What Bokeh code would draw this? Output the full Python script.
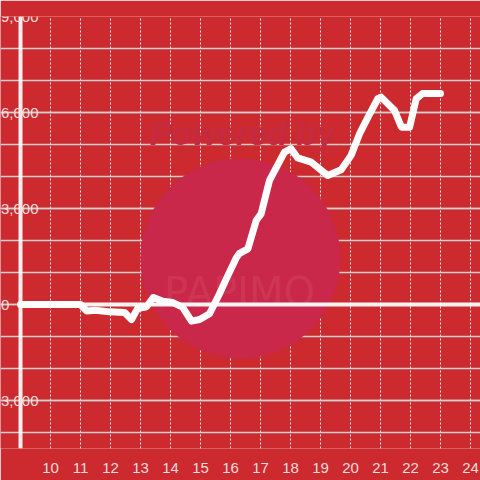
from bokeh.plotting import figure
from bokeh.models import Range1d, Span, SingleIntervalTicker, NumeralTickFormatter, FixedTicker
from bokeh.core.properties import value
from bokeh.embed import file_html
from bokeh.resources import INLINE

# data (hour of day, cumulative value)
hours = [9.0, 11.0, 11.2, 11.5, 11.97, 12.47, 12.7, 12.9, 13.2, 13.43, 13.74, 14.08,
         14.4, 14.7, 14.97, 15.3, 15.63, 15.86, 16.19, 16.3, 16.58, 16.86, 17.02, 17.3,
         17.8, 18.02, 18.24, 18.69, 19.24, 19.69, 20.02, 20.3, 20.58, 20.91, 21.02,
         21.47, 21.7, 21.97, 22.19, 22.4, 23.0]
values = [0, 0, -200, -180, -230, -250, -470, -130, -70, 220, 100, 60,
          -80, -520, -470, -290, 330, 800, 1450, 1600, 1740, 2630, 2830, 3880,
          4760, 4870, 4580, 4450, 4030, 4210, 4660, 5330, 5850, 6430, 6480,
          6060, 5540, 5540, 6430, 6590, 6590]
x_ticks = list(range(10, 25))
x_origin = 9

BG = "#cc2a2e"
W = 480

p = figure(width=W, height=W, output_backend="svg", toolbar_location=None,
           x_range=Range1d(8.3333, 24.3333), y_range=Range1d(-4500, 9000),
           background_fill_color=BG, border_fill_color=BG, outline_line_color=None,
           min_border_left=0, min_border_right=0,
           min_border_top=16, min_border_bottom=32)

# watermark
p.scatter(x=[16.33], y=[1440], size=200, fill_color="#c9284a", line_color=None)
p.text(x=[16.4], y=[5344], text=["Powered by"], text_font=value("Liberation Sans"),
       text_font_style="bold italic", text_font_size="33px", text_color="#c52a40",
       text_align="center", text_baseline="middle")
p.text(x=[16.3], y=[400], text=["PAPIMO"], text_font=value("DejaVu Sans"),
       text_font_size="40px", text_color="#d9586a", text_alpha=0.3,
       text_align="center", text_baseline="middle")

# grids
p.xaxis.ticker = FixedTicker(ticks=x_ticks)
p.xgrid.grid_line_color = "#eeeeee"
p.xgrid.grid_line_dash = "2 2"
p.xgrid.grid_line_width = 1

p.yaxis.ticker = SingleIntervalTicker(interval=3000, num_minor_ticks=3)
p.ygrid.grid_line_color = "#cfcfcf"
p.ygrid.grid_line_width = 1.5
p.ygrid.minor_grid_line_color = "#cfcfcf"
p.ygrid.minor_grid_line_width = 1.5

# axes styling
for ax in (p.xaxis[0], p.yaxis[0]):
    ax.axis_line_color = None
    ax.major_tick_line_color = None
    ax.minor_tick_line_color = None
    ax.major_label_text_color = "#f4dede"
    ax.major_label_text_font = "Liberation Sans"
    ax.major_label_text_font_size = "15px"

p.xaxis.major_label_standoff = 8
p.yaxis.formatter = NumeralTickFormatter(format="0,0")
p.yaxis.major_label_overrides = {0: "0" + "\u00a0" * 7}
p.yaxis.fixed_location = 8.3333 + 44 / 30
p.yaxis.major_label_standoff = 0
p.yaxis.level = "overlay"

# axis line and zero line
p.add_layout(Span(location=x_origin, dimension="height", line_color="#f5f0f0", line_width=4, level="underlay"))
p.ray(x=[x_origin], y=[0], length=0, angle=0, line_color="#f8f4f4", line_width=4)

p.line(hours, values, line_color="white", line_width=7, line_join="round", line_cap="round")

open("out.html", "w").write(file_html(p, INLINE))
